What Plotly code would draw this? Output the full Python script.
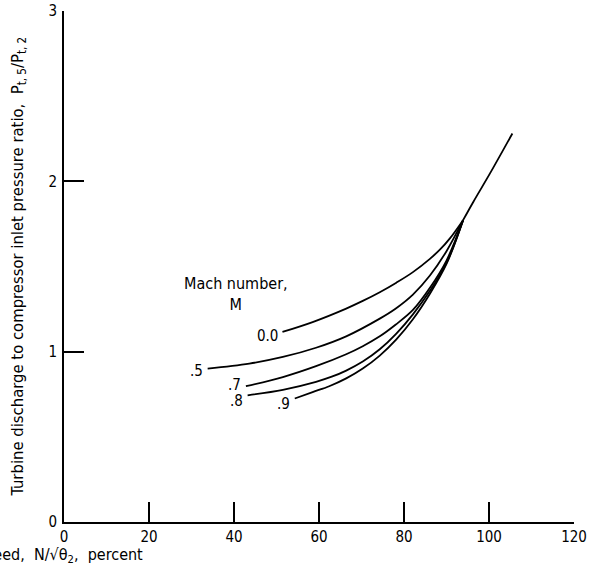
import plotly.graph_objects as go

# Corrected engine speed, percent, vs pressure ratio for each flight Mach number
mach_labels = ["0.0", ".5", ".7", ".8", ".9"]

speed_m00 = [51.4, 58.5, 66.4, 70.3, 74.3, 78.2, 82.1, 86.1, 88.5, 90.8, 93.9]
ratio_m00 = [1.116, 1.174, 1.253, 1.298, 1.349, 1.405, 1.467, 1.545, 1.60, 1.665, 1.772]

speed_m05 = [33.8, 43.6, 51.5, 59.3, 66.4, 74.3, 78.0, 82.1, 86.1, 90.0, 93.9]
ratio_m05 = [0.901, 0.930, 0.969, 1.023, 1.090, 1.194, 1.252, 1.335, 1.447, 1.59, 1.772]

speed_m07 = [42.8, 51.5, 59.3, 66.4, 70.3, 74.3, 78.0, 82.1, 86.1, 90.0, 93.9]
ratio_m07 = [0.797, 0.851, 0.915, 0.985, 1.032, 1.09, 1.158, 1.245, 1.375, 1.535, 1.772]

speed_m08 = [43.2, 51.5, 59.3, 63.0, 66.4, 70.3, 74.3, 78.2, 82.1, 86.1, 90.0, 93.9]
ratio_m08 = [0.744, 0.776, 0.823, 0.853, 0.889, 0.942, 1.014, 1.106, 1.219, 1.357, 1.521, 1.772]

speed_m09 = [54.3, 58.5, 62.4, 66.4, 70.3, 74.3, 78.2, 82.1, 86.1, 90.0, 93.9]
ratio_m09 = [0.725, 0.763, 0.797, 0.843, 0.901, 0.977, 1.072, 1.19, 1.34, 1.515, 1.772]

# common upper branch shared by all Mach numbers
speed_common = [93.9, 96.3, 100.2, 105.5]
ratio_common = [1.772, 1.879, 2.045, 2.281]

x_ticks = [0, 20, 40, 60, 80, 100, 120]
y_ticks = [0, 1, 2, 3]

FONT = "Liberation Sans Narrow, DejaVu Sans Condensed, Arial Narrow, sans-serif"

curves = [
    (speed_m00, ratio_m00),
    (speed_m05, ratio_m05),
    (speed_m07, ratio_m07),
    (speed_m08, ratio_m08),
    (speed_m09, ratio_m09),
]

fig = go.Figure()
for xs, ys in curves + [(speed_common, ratio_common)]:
    fig.add_trace(go.Scatter(
        x=xs, y=ys, mode="lines",
        line=dict(color="black", width=1.8, shape="spline", smoothing=1.0),
        hoverinfo="skip", showlegend=False,
    ))

# curve labels placed just left of each curve's starting point
label_shift = {"0.0": (-2, -4), ".5": (-3, -2), ".7": (-3, 1), ".8": (-3, -6), ".9": (-3, -5)}
for label, (xs, ys) in zip(mach_labels, curves):
    dx, dy = label_shift[label]
    fig.add_annotation(
        x=xs[0], y=ys[0], text=label, showarrow=False,
        xanchor="right", yanchor="middle", xshift=dx, yshift=dy,
        font=dict(family=FONT, size=15, color="black"),
    )

fig.add_annotation(
    x=0.337, y=0.404, xref="paper", yref="paper",
    text="Mach number,<br>M", showarrow=False, align="center",
    xanchor="center", yanchor="bottom",
    font=dict(family=FONT, size=16, color="black"),
)

# axis titles
fig.add_annotation(
    x=-0.090, y=0.50, xref="paper", yref="paper",
    text="Turbine discharge to compressor inlet pressure ratio,  P<sub>t, 5</sub>/P<sub>t, 2</sub>",
    textangle=-90, showarrow=False, xanchor="center", yanchor="middle",
    font=dict(family=FONT, size=16.5, color="black"),
)
fig.add_annotation(
    x=0.159, y=-0.066, xref="paper", yref="paper",
    text="Corrected engine speed,  N/\u221a\u03b8<sub>2</sub>,  percent",
    showarrow=False, xanchor="right", yanchor="middle",
    font=dict(family=FONT, size=16, color="black"),
)

axis_common = dict(
    showgrid=False, zeroline=False, showline=True,
    linecolor="black", linewidth=1.6,
    ticks="inside", ticklen=20, tickwidth=1.6, tickcolor="black",
    tickfont=dict(family=FONT, size=15, color="black"),
    fixedrange=True, automargin=False,
)

fig.update_xaxes(range=[0, 120], tickvals=x_ticks, **axis_common)
fig.update_yaxes(range=[0, 3], tickvals=y_ticks, ticklabelstandoff=2, **axis_common)

fig.update_layout(
    width=590, height=574,
    margin=dict(l=64, r=16, t=11, b=52),
    paper_bgcolor="white", plot_bgcolor="white",
    showlegend=False,
)

fig.write_html("out.html", config={"displayModeBar": False})
